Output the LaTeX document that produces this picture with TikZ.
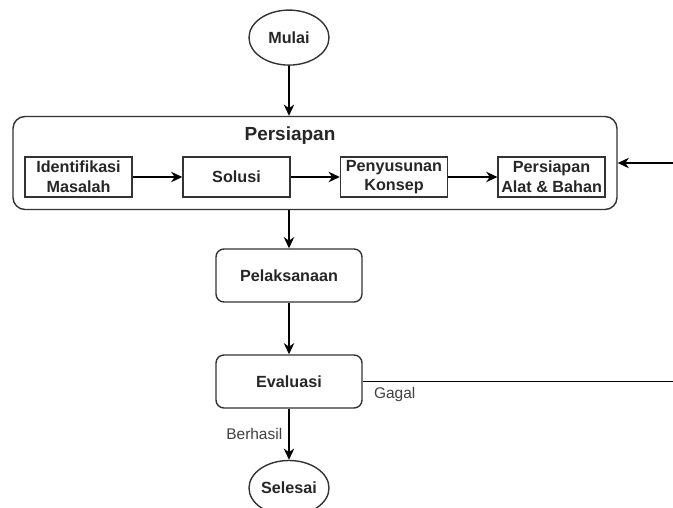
\documentclass[tikz,border=0pt]{standalone}
\usepackage{fontspec}
\setmainfont{Liberation Sans}
\usetikzlibrary{arrows.meta,shapes.geometric}

\begin{document}
\begin{tikzpicture}[
    >={Stealth[length=2.8mm, width=2.6mm, inset=0.9mm]},
    line width=1pt,
    every node/.style={text=black!85},
    terminal/.style={ellipse, draw=black!80, minimum width=2.0cm, minimum height=1.375cm,
      inner sep=0pt, font=\fontsize{11.5}{13}\selectfont\bfseries},
    proses/.style={rectangle, rounded corners=0.2cm, draw=black!80, minimum width=3.65cm,
      minimum height=1.325cm, font=\fontsize{11.5}{13}\selectfont\bfseries},
    tahap/.style={rectangle, draw=black!80, minimum width=2.675cm, minimum height=1.0cm,
      inner sep=1pt, align=center, font=\fontsize{11.5}{14}\selectfont\bfseries},
    keterangan/.style={font=\fontsize{11}{13}\selectfont, text=black!75}
  ]

  \clip (0,0) rectangle (16.825,12.7);

  % ============================================================
  % MULAI dan blok persiapan
  % ============================================================

  \node[terminal] (mulai) at (7.225,11.76) {Mulai};

  % Kotak besar
  \node[rectangle, rounded corners=0.3cm, draw=black!80, minimum width=15.1cm,
    minimum height=2.325cm] (persiapan) at (7.875,8.625) {};
  \node[font=\fontsize{13.5}{15}\selectfont\bfseries] (judul) at (7.25,9.32) {Persiapan};

  % Tahapan di dalam persiapan
  \node[tahap] (identifikasi) at (1.9625,8.275) {Identifikasi\\Masalah};
  \node[tahap] (solusi) at (5.9125,8.275) {Solusi};
  \node[tahap] (konsep) at (9.85,8.275) {Penyusunan\\Konsep};
  \node[tahap] (alat) at (13.79,8.275) {Persiapan\\Alat \& Bahan};

  \draw[->] (mulai) -- (mulai |- persiapan.north);
  \draw[->] (identifikasi) -- (solusi);
  \draw[->] (solusi) -- (konsep);
  \draw[->] (konsep) -- (alat);

  % ============================================================
  % PELAKSANAAN dan evaluasi
  % ============================================================

  \node[proses] (pelaksanaan) at (7.225,5.8125) {Pelaksanaan};
  \node[proses] (evaluasi) at (7.225,3.1625) {Evaluasi};
  \node[terminal] (selesai) at (7.225,0.5) {Selesai};

  \draw[->] (pelaksanaan |- persiapan.south) -- (pelaksanaan);
  \draw[->] (pelaksanaan) -- (evaluasi);
  \draw[->] (evaluasi) -- (selesai)
    node[midway, left=1pt, keterangan] {Berhasil};

  % Terus balik kalau gagal
  \coordinate (balik) at (17.5,3.1625);
  \draw[->] (evaluasi.east) -- (balik) |- (persiapan.east);
  \node[keterangan, anchor=north west] (gagal) at ([xshift=0.15cm]evaluasi.east) {Gagal};

\end{tikzpicture}
\end{document}
